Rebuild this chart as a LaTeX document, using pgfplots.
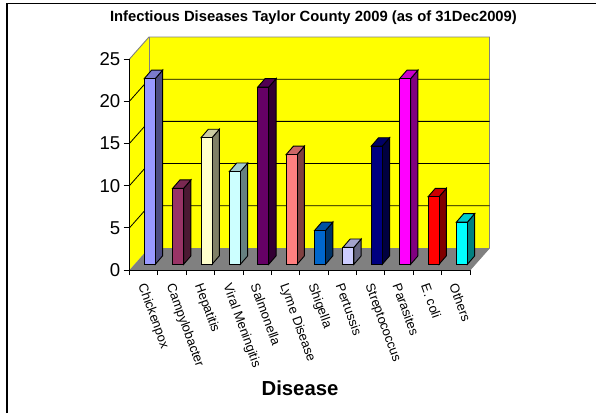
\documentclass[border=0pt]{standalone}
\usepackage{fontspec}
\setmainfont{Liberation Sans}
\usepackage{pgfplots}
\pgfplotsset{compat=1.18}

% depth of the floor and of one bar, in axis units
\def\dx{0.687}
\def\dy{2.607}
\def\bx{0.257}
\def\by{1.0}
\def\base{0.675}
\def\bw{0.388}

% one 3D bar: category index, value, colour
\newcommand{\threedbar}[3]{%
  \pgfmathsetmacro{\xa}{#1+0.52}
  \pgfmathsetmacro{\xb}{\xa+\bw}
  \pgfmathsetmacro{\xc}{\xb+\bx}
  \pgfmathsetmacro{\xd}{\xa+\bx}
  \pgfmathsetmacro{\ya}{\base}
  \pgfmathsetmacro{\yb}{\base+#2}
  \pgfmathsetmacro{\yc}{\yb+\by}
  \pgfmathsetmacro{\yd}{\ya+\by}
  \addplot[fill=#3!50!black,draw=black,line width=0.9bp] coordinates {(\xb,\ya) (\xc,\yd) (\xc,\yc) (\xb,\yb)} --cycle;
  \addplot[fill=#3!80!black,draw=black,line width=0.9bp] coordinates {(\xa,\yb) (\xb,\yb) (\xc,\yc) (\xd,\yc)} --cycle;
  \addplot[fill=#3,draw=black,line width=0.9bp] coordinates {(\xa,\ya) (\xb,\ya) (\xb,\yb) (\xa,\yb)} --cycle;
}

\definecolor{wall}{RGB}{255,255,0}
\definecolor{floorgray}{RGB}{128,128,128}
\definecolor{cA}{HTML}{9999FF}
\definecolor{cB}{HTML}{993366}
\definecolor{cC}{HTML}{FFFFCC}
\definecolor{cD}{HTML}{CCFFFF}
\definecolor{cE}{HTML}{660066}
\definecolor{cF}{HTML}{FF8080}
\definecolor{cG}{HTML}{0066CC}
\definecolor{cH}{HTML}{CCCCFF}
\definecolor{cI}{HTML}{000080}
\definecolor{cJ}{HTML}{FF00FF}
\definecolor{cK}{HTML}{FF0000}
\definecolor{cL}{HTML}{00FFFF}

\begin{document}
\begin{tikzpicture}[x=1bp,y=1bp]
\useasboundingbox (0,0) rectangle (596,413);
\draw[black,line width=1.3bp] (7,0) -- (7,409.5) -- (596,409.5);
\begin{axis}[
  at={(129.5bp,143bp)},
  anchor=south west,
  scale only axis,
  width=360bp,
  height=233bp,
  xmin=0, xmax=12.687,
  ymin=0, ymax=27.607,
  clip=false,
  axis line style={draw=none},
  tick align=outside,
  xtick pos=bottom,
  ytick pos=left,
  major tick length=6bp,
  minor tick length=5bp,
  xtick={0.5,1.5,...,11.5},
  minor xtick={0,1,...,12},
  major x tick style={draw=none},
  minor x tick style={black,line width=0.9bp},
  ytick={0,5,10,15,20,25},
  ytick style={black,line width=0.9bp},
  xticklabels={Chickenpox,Campylobacter,Hepatitis,Viral Meningitis,Salmonella,Lyme Disease,Shigella,Pertussis,Streptococcus,Parasites,E. coli,Others},
  xticklabel style={xshift=-2.4bp,yshift=-8.2bp,rotate=-70,anchor=west,inner sep=0pt,font=\fontsize{13bp}{14bp}\selectfont},
  yticklabel style={inner sep=0pt,xshift=-3bp,font=\fontsize{18.6bp}{20bp}\selectfont},
  /pgf/number format/assume math mode=true,
  title={Infectious Diseases Taylor County 2009 (as of 31Dec2009)},
  every axis title shift=0pt,
  title style={at={(axis description cs:0.511,1.084)},anchor=center,inner sep=0pt,font=\bfseries\fontsize{14.8bp}{16bp}\selectfont},
  xlabel={Disease},
  xlabel style={at={(axis description cs:0.4736,-0.506)},anchor=center,inner sep=0pt,font=\bfseries\fontsize{20.3bp}{22bp}\selectfont},
]
% walls and floor
\addplot[fill=wall,draw=none] coordinates {(0,0) (0,25) (0.687,27.607) (0.687,2.607)} --cycle;
\addplot[fill=wall,draw=none] coordinates {(0.687,2.607) (12.687,2.607) (12.687,27.607) (0.687,27.607)} --cycle;
\addplot[fill=floorgray,draw=none] coordinates {(0,0) (12,0) (12.687,2.607) (0.687,2.607)} --cycle;
% wall outline
\addplot[floorgray,line width=0.9bp] coordinates {(0,25) (0.687,27.607) (12.687,27.607) (12.687,2.607) (12,0)};
\addplot[floorgray,line width=0.9bp] coordinates {(0.687,27.607) (0.687,2.607)};
% gridlines
\addplot[black,line width=0.8bp] coordinates {(0,5) (0.687,7.607) (12.687,7.607)};
\addplot[black,line width=0.8bp] coordinates {(0,10) (0.687,12.607) (12.687,12.607)};
\addplot[black,line width=0.8bp] coordinates {(0,15) (0.687,17.607) (12.687,17.607)};
\addplot[black,line width=0.8bp] coordinates {(0,20) (0.687,22.607) (12.687,22.607)};
% bars
\threedbar{0}{22}{cA}
\threedbar{1}{9}{cB}
\threedbar{2}{15}{cC}
\threedbar{3}{11}{cD}
\threedbar{4}{21}{cE}
\threedbar{5}{13}{cF}
\threedbar{6}{4}{cG}
\threedbar{7}{2}{cH}
\threedbar{8}{14}{cI}
\threedbar{9}{22}{cJ}
\threedbar{10}{8}{cK}
\threedbar{11}{5}{cL}
% axis lines
\addplot[black,line width=1bp] coordinates {(0,25) (0,0) (12,0)};
\end{axis}
\end{tikzpicture}
\end{document}
